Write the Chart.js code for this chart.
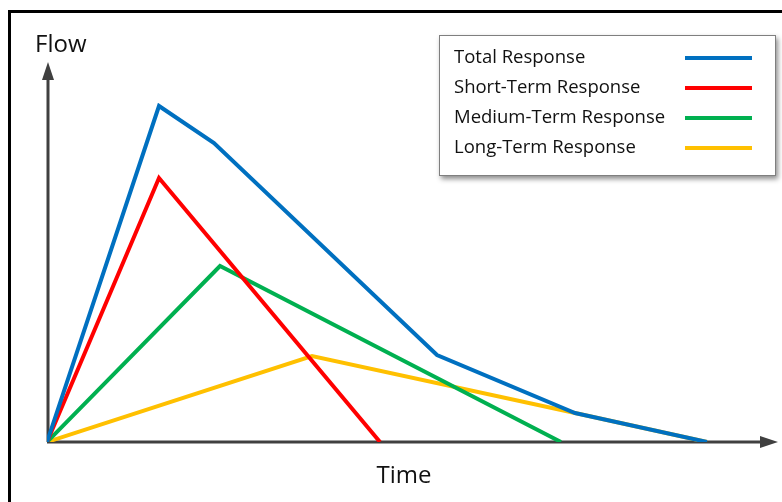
<!DOCTYPE html>
<html>
<head>
<meta charset="utf-8">
<script src="https://cdn.jsdelivr.net/npm/chart.js@4"></script>
<style>
  html, body { margin: 0; padding: 0; background: #fff; }
  #wrap { position: relative; width: 782px; height: 502px; overflow: hidden; }
  #frame { position: absolute; left: 8px; top: 10px; width: 800px; height: 520px; border-left: 3px solid #000; border-top: 3px solid #000; }
  canvas { position: absolute; left: 0; top: 0; }
</style>
</head>
<body>
<div id="wrap">
  <div id="frame"></div>
  <canvas id="c" width="782" height="502"></canvas>
</div>
<script>
'use strict';
// series as [time, flow] in arbitrary units
const seriesNames = ['Total Response', 'Short-Term Response', 'Medium-Term Response', 'Long-Term Response'];
const seriesColors = ['#0070C0', '#FF0000', '#00B050', '#FFC000'];
const totalPts  = [[0, 0], [112, 336], [167, 299], [390, 87], [528, 29], [660, 0]];
const shortPts  = [[0, 0], [112, 264], [333, 0]];
const mediumPts = [[0, 0], [173, 176], [514, 0]];
const longPts   = [[0, 0], [265, 86], [528, 29], [660, 0]];
const xMax = 731, yMax = 380;

const toXY = pts => pts.map(p => ({ x: p[0], y: p[1] }));
const allPts = [totalPts, shortPts, mediumPts, longPts];

const axesPlugin = {
  id: 'axesArrows',
  beforeDatasetsDraw(chart) {
    const { ctx, chartArea: a } = chart;
    ctx.save();
    ctx.strokeStyle = '#404040';
    ctx.fillStyle = '#404040';
    ctx.lineWidth = 3;
    ctx.beginPath();
    ctx.moveTo(a.left + 1, a.bottom);
    ctx.lineTo(a.left + 1, a.top + 14);
    ctx.moveTo(a.left, a.bottom);
    ctx.lineTo(a.right - 14, a.bottom);
    ctx.stroke();
    // arrow heads
    ctx.beginPath();
    ctx.moveTo(a.left + 1, a.top);
    ctx.lineTo(a.left - 5, a.top + 18);
    ctx.lineTo(a.left + 7, a.top + 18);
    ctx.closePath();
    ctx.fill();
    ctx.beginPath();
    ctx.moveTo(a.right, a.bottom);
    ctx.lineTo(a.right - 18, a.bottom - 6);
    ctx.lineTo(a.right - 18, a.bottom + 6);
    ctx.closePath();
    ctx.fill();
    // axis names
    ctx.fillStyle = '#111';
    ctx.font = '24px "Open Sans", sans-serif';
    ctx.textBaseline = 'middle';
    ctx.textAlign = 'left';
    ctx.fillText('Flow', 35, 45);
    ctx.textAlign = 'center';
    ctx.fillText('Time', 404, 476);
    ctx.restore();
  },
  afterDraw(chart) {
    const { ctx } = chart;
    const bx = 439, by = 35, bw = 337, bh = 141;
    ctx.save();
    ctx.shadowColor = 'rgba(0,0,0,0.45)';
    ctx.shadowBlur = 5;
    ctx.shadowOffsetX = 2;
    ctx.shadowOffsetY = 3;
    ctx.fillStyle = '#fff';
    ctx.fillRect(bx, by, bw, bh);
    ctx.shadowColor = 'transparent';
    ctx.strokeStyle = '#7f7f7f';
    ctx.lineWidth = 1;
    ctx.strokeRect(bx + 0.5, by + 0.5, bw - 1, bh - 1);
    ctx.font = '18.5px "Open Sans", sans-serif';
    ctx.textBaseline = 'middle';
    ctx.textAlign = 'left';
    chart.data.datasets.forEach((ds, i) => {
      const y = 58 + i * 30;
      ctx.fillStyle = '#111';
      ctx.fillText(ds.label, 454, y);
      ctx.strokeStyle = ds.borderColor;
      ctx.lineWidth = 4;
      ctx.beginPath();
      ctx.moveTo(685, y);
      ctx.lineTo(752, y);
      ctx.stroke();
    });
    ctx.restore();
  }
};

const datasets = seriesNames.map((name, i) => ({
  label: name,
  data: toXY(allPts[i]),
  borderColor: seriesColors[i],
  backgroundColor: seriesColors[i],
  borderWidth: 4,
  pointRadius: 0,
  showLine: true,
  tension: 0,
  order: i
}));

new Chart(document.getElementById('c'), {
  type: 'scatter',
  data: { datasets },
  options: {
    responsive: false,
    animation: false,
    layout: { padding: { left: 47, right: 4, top: 62, bottom: 60 } },
    plugins: { legend: { display: false }, tooltip: { enabled: false } },
    scales: {
      x: { type: 'linear', min: 0, max: xMax, display: false },
      y: { type: 'linear', min: 0, max: yMax, display: false }
    }
  },
  plugins: [axesPlugin]
});
</script>
</body>
</html>
